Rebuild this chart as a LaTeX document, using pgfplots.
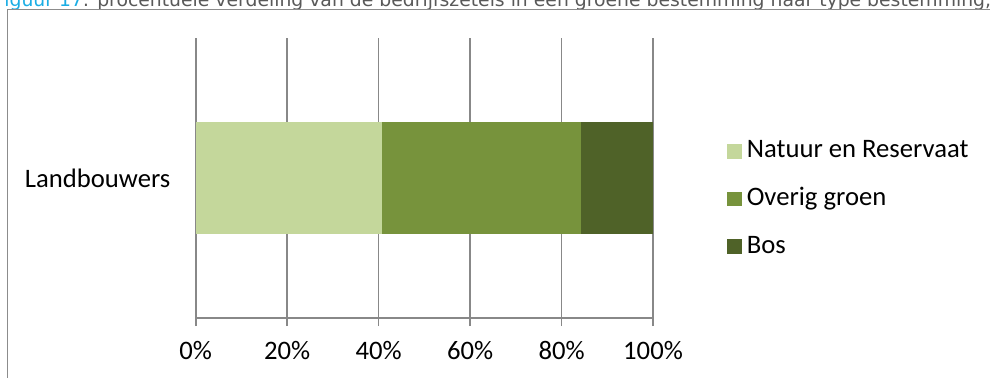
\documentclass[border=0pt]{standalone}
\usepackage{pgfplots}
\pgfplotsset{compat=1.18}
\usepackage{fontspec}
\setmainfont{Carlito}
\newfontfamily\captionfont{DejaVu Sans}

\definecolor{natuur}{HTML}{C4D79B}
\definecolor{overig}{HTML}{77933C}
\definecolor{bos}{HTML}{4F6228}
\definecolor{gridgray}{HTML}{888888}
\definecolor{framegray}{HTML}{8C8C8C}
\definecolor{capblue}{HTML}{1AADE4}
\definecolor{capgray}{HTML}{595959}

\pgfplotstableread{
group      natuur overig bos
1          40.7   43.6   15.7
}\sharestable

\begin{document}
\begin{tikzpicture}
% page of 990 x 378 units, 0.75pt each
\useasboundingbox (0pt,0pt) rectangle (742.5pt,-283.5pt);
% caption line above the chart frame
\node[anchor=base west, inner sep=0pt, font=\captionfont\fontsize{14.1}{17}\selectfont]
  at (-4pt,-4.7pt)
  {\textcolor{capblue}{Figuur 17}\textcolor{capgray}{: procentuele verdeling van de bedrijfszetels in een groene bestemming naar type bestemming,}};
% chart frame
\draw[framegray, line width=1.1pt] (5.5pt,-290pt) -- (5.5pt,-7pt) -- (760pt,-7pt);
\begin{axis}[
  at={(146.78pt,-238.5pt)}, anchor=south west,
  scale only axis, width=342.98pt, height=210pt,
  xbar stacked, bar width=0.4,
  xmin=0, xmax=100, ymin=0.5, ymax=1.5,
  axis x line=bottom, axis y line=left,
  axis line style={-, gridgray, line width=1.2pt},
  xtick={0,20,40,60,80,100},
  xticklabels={0\%,20\%,40\%,60\%,80\%,100\%},
  xmajorgrids, grid style={gridgray, line width=1.2pt},
  tick align=outside, major tick length=6pt,
  tick style={gridgray, line width=1.2pt},
  ytick={1}, yticklabels={Landbouwers},
  y tick style={draw=none},
  extra y ticks={0.5,1.5}, extra y tick labels={},
  extra y tick style={tick style={draw=gridgray, line width=1.2pt}},
  tick label style={font=\fontsize{20}{24}\selectfont, text=black},
  xticklabel style={yshift=-8pt},
  yticklabel style={xshift=-9.5pt},
  legend cell align=left,
  legend style={draw=none, fill=none, inner sep=0pt,
    at={(1.162,0.425)}, anchor=west,
    font=\fontsize{20}{24}\selectfont,
    nodes={inner sep=0pt, text height=13.5pt, text depth=4pt},
    row sep=18.3pt,
    /tikz/every odd column/.append style={column sep=3.6pt}},
]
\addplot[fill=natuur, draw=none,
  legend image code/.code={\fill[natuur] (0pt,-5.5pt) rectangle (11pt,5.5pt);}]
  table[x=natuur, y=group] {\sharestable};
\addplot[fill=overig, draw=none,
  legend image code/.code={\fill[overig] (0pt,-5.5pt) rectangle (11pt,5.5pt);}]
  table[x=overig, y=group] {\sharestable};
\addplot[fill=bos, draw=none,
  legend image code/.code={\fill[bos] (0pt,-5.5pt) rectangle (11pt,5.5pt);}]
  table[x=bos, y=group] {\sharestable};
\legend{Natuur en Reservaat, Overig groen, Bos}
\end{axis}
\end{tikzpicture}
\end{document}
